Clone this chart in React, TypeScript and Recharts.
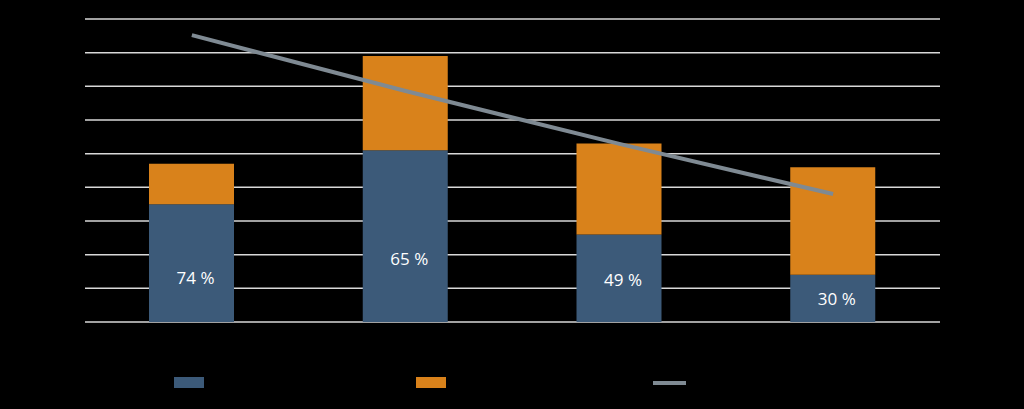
import { ComposedChart, Bar, Line, XAxis, YAxis, CartesianGrid, LabelList } from 'recharts';

const categories = ['A', 'B', 'C', 'D'];
const blueValues = [35, 51, 26, 14];
const orangeValues = [12, 28, 27, 32];
const lineValues = [85.2, 68.6, 52.9, 38];
const shareLabels = ['74 %', '65 %', '49 %', '30 %'];
const yTicks = [0, 10, 20, 30, 40, 50, 60, 70, 80, 90];

// label sits a bit below the middle of the blue block
const labelShift = [16, 24, 3, 2];

const data = categories.map((c, i) => ({
  name: c,
  blue: blueValues[i],
  orange: orangeValues[i],
  trend: lineValues[i],
  share: shareLabels[i],
}));

function ShareLabel(props: any) {
  const { x, y, width, height, value, index } = props;
  return (
    <text
      x={x + width / 2 + 4}
      y={y + height / 2 + labelShift[index]}
      fill="#ffffff"
      fontSize={17}
      fontFamily="'Open Sans', sans-serif"
      textAnchor="middle"
      dominantBaseline="middle"
    >
      {value}
    </text>
  );
}

export default function App() {
  return (
    <div style={{ position: 'absolute', left: 0, top: 0, width: 1024, height: 409, background: '#000' }}>
      <ComposedChart
        width={1024}
        height={409}
        data={data}
        margin={{ top: 19, right: 84, bottom: 87, left: 85 }}
      >
        <CartesianGrid vertical={false} stroke="#d9d9d9" strokeWidth={1.5} />
        <XAxis dataKey="name" hide />
        <YAxis hide domain={[0, 90]} ticks={yTicks} />
        <Bar dataKey="blue" stackId="s" fill="#3c5a79" barSize={85} isAnimationActive={false}>
          <LabelList dataKey="share" content={<ShareLabel />} />
        </Bar>
        <Bar dataKey="orange" stackId="s" fill="#d9821b" barSize={85} isAnimationActive={false} />
        <Line
          dataKey="trend"
          type="linear"
          stroke="#7f8a93"
          strokeWidth={4}
          dot={false}
          isAnimationActive={false}
        />
      </ComposedChart>
      <div style={{ position: 'absolute', left: 174, top: 377, width: 30, height: 11, background: '#3c5a79' }} />
      <div style={{ position: 'absolute', left: 416, top: 377, width: 30, height: 11, background: '#d9821b' }} />
      <div style={{ position: 'absolute', left: 653, top: 381, width: 33, height: 4, background: '#7f8a93' }} />
    </div>
  );
}
